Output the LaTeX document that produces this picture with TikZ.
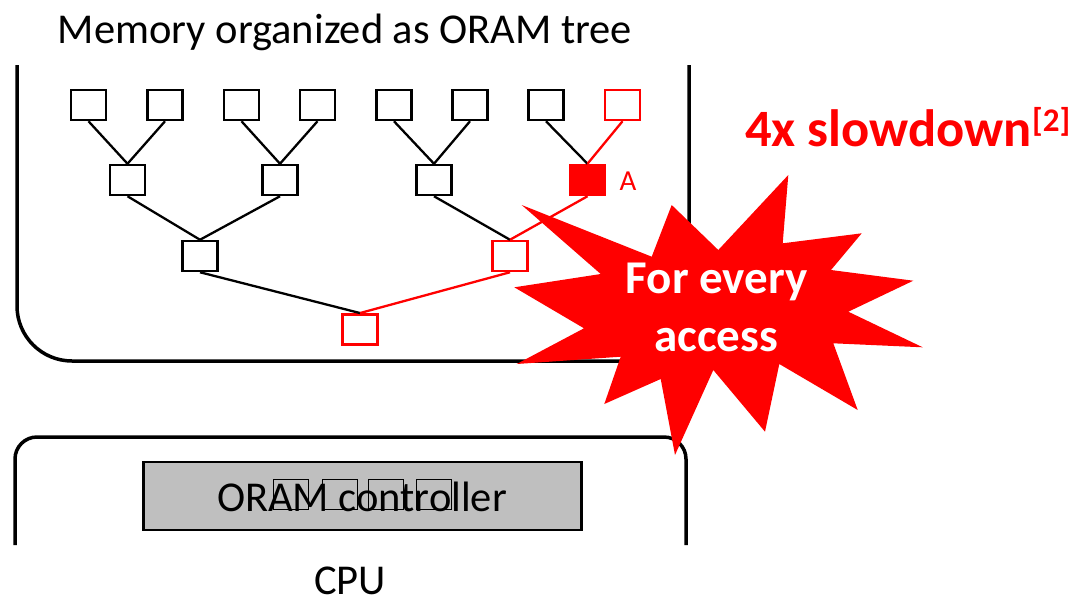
\documentclass[tikz,border=0pt]{standalone}
\usepackage{fontspec}
\setmainfont{Carlito}
\definecolor{hot}{RGB}{255,0,0}
\definecolor{ctrlgray}{RGB}{191,191,191}
\begin{document}
\begin{tikzpicture}[x=1pt,y=-1pt,
  bucket/.style={draw, line width=2.5pt, minimum width=35pt, minimum height=30pt, inner sep=0pt, fill=white},
  hotbucket/.style={bucket, draw=hot},
  slot/.style={draw, line width=1.5pt, minimum width=35pt, minimum height=30pt, inner sep=0pt},
  edge/.style={line width=2.3pt},
  hotedge/.style={edge, draw=hot},
  frame/.style={line width=3.5pt},
  label/.style={anchor=base, inner sep=0pt, font=\fontsize{42.5}{50}\selectfont},
  burst/.style={anchor=base, inner sep=0pt, text=white, font=\bfseries\fontsize{47}{56}\selectfont}]
\fill[white] (0,0) rectangle (1076,603);
\useasboundingbox (0,0) rectangle (1076,603);

% memory enclosure (open at the top)
\draw[frame, rounded corners=55pt] (17,65) -- (17,361) -- (689,361) -- (689,65);
\node[label] (title) at (345,43) {Memory organized as ORAM tree};

% CPU enclosure (open at the bottom)
\draw[frame, rounded corners=22pt] (15,545) -- (15,437) -- (686,437) -- (686,545);
\node[label] (cpu) at (350,594) {CPU};

% ORAM controller with its stash slots
\node[draw, line width=2.2pt, fill=ctrlgray, minimum width=438pt, minimum height=68pt, inner sep=0pt] (ctrl) at (362.5,496) {};
\node[label] (ctrltext) at (362,511.5) {ORAM controller};
\node[slot] (s1) at (290.8,494.3) {};
\node[slot] (s2) at (340.2,494.3) {};
\node[slot] (s3) at (386.2,494.3) {};
\node[slot] (s4) at (434.2,494.3) {};

% leaves
\node[bucket] (l1) at (88.5,105) {};
\node[bucket] (l2) at (165,105) {};
\node[bucket] (l3) at (241.5,105) {};
\node[bucket] (l4) at (317.5,105) {};
\node[bucket] (l5) at (394,105) {};
\node[bucket] (l6) at (470,105) {};
\node[bucket] (l7) at (546,105) {};
\node[hotbucket] (l8) at (622.5,105) {};
% level two
\node[bucket] (m1) at (127.5,180) {};
\node[bucket] (m2) at (280,180) {};
\node[bucket] (m3) at (434,180) {};
\node[hotbucket, fill=hot] (m4) at (587.5,180) {};
\node[anchor=base, inner sep=0pt, text=hot, font=\fontsize{29}{34}\selectfont] (alabel) at (628,190.5) {A};
% level three
\node[bucket] (k1) at (200,256) {};
\node[hotbucket] (k2) at (510,256) {};
% root
\node[hotbucket] (root) at (360,329.3) {};

% tree edges
\draw[edge] (l1.south) -- (m1.north);
\draw[edge] (l2.south) -- (m1.north);
\draw[edge] (l3.south) -- (m2.north);
\draw[edge] (l4.south) -- (m2.north);
\draw[edge] (l5.south) -- (m3.north);
\draw[edge] (l6.south) -- (m3.north);
\draw[edge] (l7.south) -- (m4.north);
\draw[hotedge] (l8.south) -- (m4.north);
\draw[edge] (m1.south) -- (k1.north);
\draw[edge] (m2.south) -- (k1.north);
\draw[edge] (m3.south) -- (k2.north);
\draw[hotedge] (m4.south) -- (k2.north);
\draw[edge] (k1.south) -- (root.north);
\draw[hotedge] (k2.south) -- (root.north);

% slowdown note
\node[anchor=base west, inner sep=0pt, text=hot, font=\bfseries\fontsize{52.5}{60}\selectfont] (slow) at (745,146.7)
  {4x slowdown{\fontsize{33}{33}\selectfont\raisebox{15pt}{[2]}}};

% burst
\fill[hot] (521.7,205.0) -- (651.7,256.7) -- (671.7,205.0) -- (718.3,250.0) -- (788.3,175.0)
  -- (782.7,243.3) -- (861.7,233.3) -- (831.0,270.0) -- (913.3,280.7) -- (848.3,311.7)
  -- (922.7,347.3) -- (833.3,343.3) -- (857.7,410.0) -- (779.3,364.0) -- (765.0,431.7)
  -- (713.3,370.0) -- (675.0,455.0) -- (660.7,379.0) -- (604.3,404.0) -- (620.7,356.7)
  -- (516.7,364.0) -- (584.0,328.3) -- (514.3,287.3) -- (600.7,274.0) -- cycle;
\node[burst] (b1) at (716.7,293.3) {For every};
\node[burst] (b2) at (716,351.7) {access};
\end{tikzpicture}
\end{document}
